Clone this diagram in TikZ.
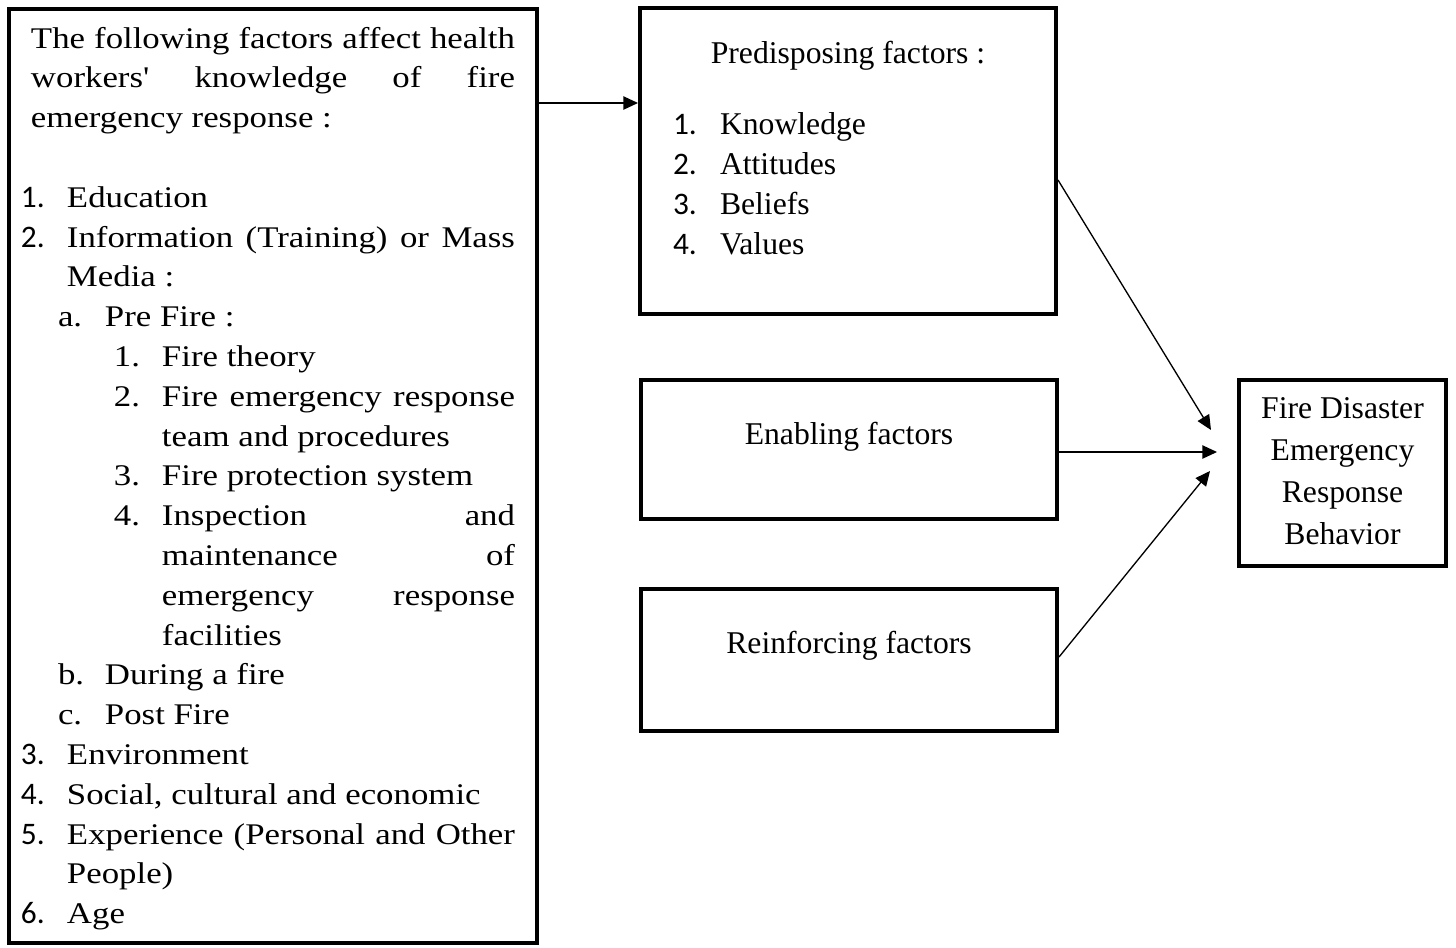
\documentclass[tikz,border=0pt]{standalone}
\usepackage{fontspec}
\setmainfont{Liberation Serif}
\newfontfamily\widefont[FakeStretch=1.16]{Liberation Serif}
\newfontfamily\numfont{Carlito}
\usetikzlibrary{arrows.meta}

% list lines: label start, text start, label, text
\newcommand{\lentry}[4]{\par\leftskip=#2\relax\noindent\llap{\makebox[\dimexpr#2-#1\relax][l]{#3}}#4}
\newcommand{\numA}[2]{\lentry{9pt}{43.5pt}{\numfont\fontsize{23.5pt}{29.85pt}\selectfont#1}{#2}}
\newcommand{\numB}[2]{\lentry{36.75pt}{72pt}{#1}{#2}}
\newcommand{\numC}[2]{\lentry{78.75pt}{114.75pt}{#1}{#2}}
\newcommand{\pentry}[2]{\lentry{24.75pt}{60pt}{\numfont\fontsize{23.5pt}{30pt}\selectfont#1}{#2}}

\begin{document}
\begin{tikzpicture}[x=0.75pt,y=-0.75pt]

\tikzset{
  box_f/.style = {draw=black, line width=3pt, inner sep=0pt, rectangle,
    font=\fontsize{23.75pt}{30pt}\selectfont},
  arr_l/.style = {-{Triangle[length=11pt,width=10pt]}, line width=1pt}
}
\useasboundingbox (0,0) rectangle (1456,947);

\node [box_f] (know) at (273,476) {\parbox[c][700.5pt][t]{396pt}{%
  \widefont\fontsize{22.5pt}{29.85pt}\selectfont
  \parindent=0pt \tolerance=9999 \hbadness=10000
  \rightskip=16.5pt \leftskip=16.5pt
  \rule{0pt}{29.25pt}The following factors affect health\linebreak
  workers' knowledge of fire\linebreak emergency response :\par
  \vspace{29.85pt}
  \numA{1.}{Education}
  \numA{2.}{Information (Training) or Mass\linebreak Media :}
  \numB{a.}{Pre Fire :}
  \numC{1.}{Fire theory}
  \numC{2.}{Fire emergency response\linebreak team and procedures}
  \numC{3.}{Fire protection system}
  \numC{4.}{Inspection and\linebreak maintenance of\linebreak emergency response\linebreak facilities}
  \numB{b.}{During a fire}
  \numB{c.}{Post Fire}
  \numA{3.}{Environment}
  \numA{4.}{Social, cultural and economic}
  \numA{5.}{Experience (Personal and Other\linebreak People)}
  \numA{6.}{Age}}};

\node [box_f] (pre) at (848,161) {\parbox[c][229.5pt][t]{312pt}{%
  \fontsize{23.75pt}{30pt}\selectfont
  \centering\rule{0pt}{41.6pt}Predisposing factors :\par
  \raggedright\vspace{23.25pt}
  \pentry{1.}{Knowledge}
  \pentry{2.}{Attitudes}
  \pentry{3.}{Beliefs}
  \pentry{4.}{Values}}};

\node [box_f] (enab) at (849,449.5) {\parbox[c][104.25pt][t]{312pt}{%
  \centering\rule{0pt}{48pt}Enabling factors}};
\node [box_f] (reinf) at (849,660) {\parbox[c][106.5pt][t]{312pt}{%
  \centering\rule{0pt}{48pt}Reinforcing factors}};

\node [box_f] (beh) at (1342.5,473) {\parbox[c][139.5pt][t]{155.25pt}{%
  \centering\fontsize{23.75pt}{31.5pt}\selectfont
  \rule{0pt}{28.5pt}Fire Disaster\\Emergency\\Response\\Behavior}};

\coordinate (tip_p) at (1211,430);
\coordinate (tip_e) at (1217,452);
\coordinate (tip_r) at (1210,471);

\draw [arr_l] (know.east |- 0,103) -- (pre.west |- 0,103);
\draw [arr_l] (pre.east |- 0,180) -- (tip_p);
\draw [arr_l] (enab.east |- tip_e) -- (tip_e);
\draw [arr_l] (reinf.east |- 0,657) -- (tip_r);

\end{tikzpicture}
\end{document}
